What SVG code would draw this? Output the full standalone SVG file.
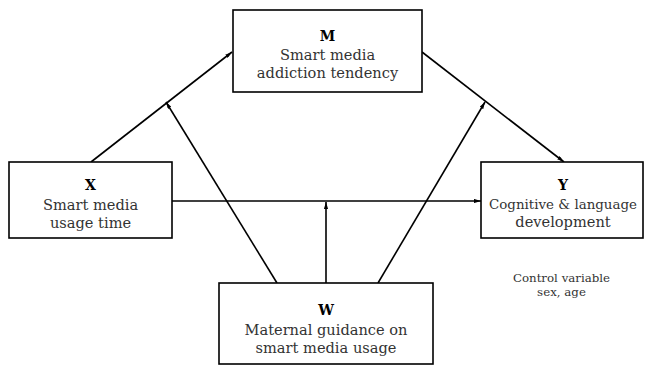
<svg xmlns="http://www.w3.org/2000/svg" width="647" height="367" viewBox="0 0 647 367">
<style>
.box{fill:#fff;stroke:#000;stroke-width:1.6}
.t{font-family:"DejaVu Serif","Liberation Serif",serif;font-size:14.6px;fill:#333;text-anchor:middle}
.h{font-family:"DejaVu Serif","Liberation Serif",serif;font-size:14px;font-weight:bold;fill:#000;text-anchor:middle}
.s{font-family:"DejaVu Serif","Liberation Serif",serif;font-size:11.8px;fill:#333;text-anchor:middle}
.c{stroke:#000;stroke-width:1.6;fill:none;marker-end:url(#ah)}
</style>
<defs>
<marker id="ah" viewBox="0 0 10 6" refX="10" refY="3" markerWidth="7" markerHeight="4.2" markerUnits="userSpaceOnUse" orient="auto">
<path d="M0,0 L10,3 L0,6 Z" fill="#000"/>
</marker>
</defs>
<rect width="647" height="367" fill="#fff"/>
<g id="connectors">
<line class="c" x1="91" y1="162" x2="232" y2="52"/>
<line class="c" x1="422" y1="52" x2="564" y2="162"/>
<line class="c" x1="172" y1="201" x2="481" y2="201"/>
<line class="c" x1="277" y1="283" x2="166" y2="102"/>
<line class="c" x1="326" y1="283" x2="326" y2="202"/>
<line class="c" x1="378" y1="283" x2="485" y2="102"/>
</g>
<g id="M">
<rect class="box" x="233" y="10" width="189" height="82"/>
<text class="h" x="327.5" y="41">M</text>
<text class="t" x="327.5" y="60">Smart media</text>
<text class="t" x="327.5" y="78">addiction tendency</text>
</g>
<g id="X">
<rect class="box" x="9" y="162" width="163" height="76"/>
<text class="h" x="90.5" y="190">X</text>
<text class="t" x="90.5" y="210">Smart media</text>
<text class="t" x="90.5" y="228">usage time</text>
</g>
<g id="Y">
<rect class="box" x="481" y="162" width="162" height="76"/>
<text class="h" x="563" y="190">Y</text>
<text class="t" x="563" y="209" style="font-size:13.4px">Cognitive &amp; language</text>
<text class="t" x="563" y="227">development</text>
</g>
<g id="W">
<rect class="box" x="219" y="283" width="214" height="81"/>
<text class="h" x="326" y="315">W</text>
<text class="t" x="326" y="335">Maternal guidance on</text>
<text class="t" x="326" y="353">smart media usage</text>
</g>
<g id="control">
<text class="s" x="561.5" y="282">Control variable</text>
<text class="s" x="561.5" y="296">sex, age</text>
</g>
</svg>
